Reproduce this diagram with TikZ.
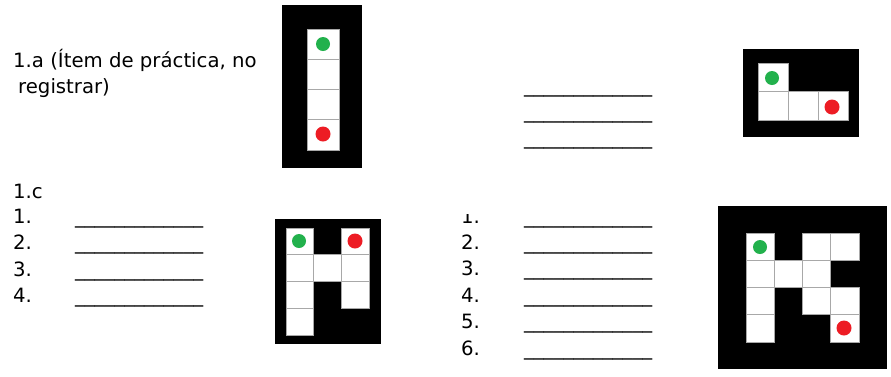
\documentclass[tikz,border=0pt]{standalone}
\usepackage{fontspec}
\setmainfont{DejaVu Sans}

\begin{document}
\begin{tikzpicture}[x=1pt, y=-1pt,
    itemtext/.style={inner sep=0pt, anchor=base west, font=\fontsize{19.7}{26}\selectfont},
    board/.style={fill=black},
    cell/.style={fill=white, draw=cellLine, line width=0.8pt},
    startdot/.style={circle, fill=startColour, inner sep=0pt, minimum size=14pt},
    enddot/.style={circle, fill=endColour, inner sep=0pt, minimum size=15pt}]
    % Define colours
    \definecolor{cellLine}{HTML}{A8A8A8}
    \definecolor{startColour}{HTML}{22B14C}
    \definecolor{endColour}{HTML}{ED1C24}

    % Answer blank
    \def\answerBlank{\_\_\_\_\_\_\_\_\_\_\_\_\_}

    % Fix the page to the reference size
    \useasboundingbox (0,0) rectangle (891,376);

    % Practice item text
    \node[itemtext] (practiceA) at (13,67) {1.a (Ítem de práctica, no};
    \node[itemtext] (practiceB) at (18,93) {registrar)};

    % Board 1.a: vertical strip
    \fill[board] (282,5) rectangle (362,168);
    \foreach \r in {0,...,3}
        \draw[cell] (307,{29+\r*30.25}) rectangle ++(32,30.25);
    \node[startdot] (startA) at (323,44) {};
    \node[enddot] (endA) at (323,134) {};

    % Blanks for the top right board
    \foreach \i in {1,...,3}
        \node[itemtext] (blankB\i) at (524,{92+(\i-1)*26}) {\answerBlank};

    % Board top right: L shape
    \fill[board] (743,49) rectangle (859,137);
    \foreach \c/\r in {0/0, 0/1, 1/1, 2/1}
        \draw[cell] ({758+\c*30},{63+\r*28.5}) rectangle ++(30,28.5);
    \node[startdot] (startB) at (772,78) {};
    \node[enddot] (endB) at (832,107) {};

    % Item 1.c and its list
    \node[itemtext] (itemC) at (13,198) {1.c};
    \foreach \i in {1,...,4} {
        \node[itemtext] (numC\i) at (13,{223+(\i-1)*26.5}) {\i.};
        \node[itemtext] (blankC\i) at (75,{223+(\i-1)*26.5}) {\answerBlank};
    }

    % Board 1.c
    \fill[board] (275,219) rectangle (381,344);
    \foreach \c/\r in {0/0, 2/0, 0/1, 1/1, 2/1, 0/2, 2/2, 0/3}
        \draw[cell] ({286+\c*27.7},{228+\r*26.75}) rectangle ++(27.7,26.75);
    \node[startdot] (startC) at (299,241) {};
    \node[enddot] (endC) at (355,241) {};

    % Bottom right list, first number cut at the top
    \begin{scope}
        \clip (440,214) rectangle (520,240);
        \node[itemtext] (numD1) at (461,223) {1.};
    \end{scope}
    \foreach \i in {2,...,6}
        \node[itemtext] (numD\i) at (461,{223+(\i-1)*26.4}) {\i.};
    \foreach \i in {1,...,6}
        \node[itemtext] (blankD\i) at (524,{223+(\i-1)*26.4}) {\answerBlank};

    % Board bottom right
    \fill[board] (718,206) rectangle (887,369);
    \foreach \c/\r in {0/0, 2/0, 3/0, 0/1, 1/1, 2/1, 0/2, 2/2, 3/2, 0/3, 3/3}
        \draw[cell] ({746+\c*28.25},{233+\r*27.25}) rectangle ++(28.25,27.25);
    \node[startdot] (startD) at (760,247) {};
    \node[enddot] (endD) at (844,328) {};

\end{tikzpicture}
\end{document}
